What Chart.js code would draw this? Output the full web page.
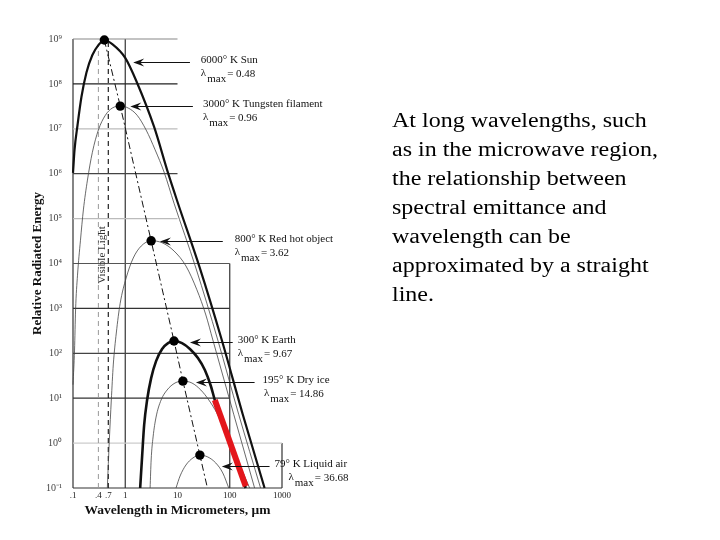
<!DOCTYPE html>
<html>
<head>
<meta charset="utf-8">
<script src="https://cdn.jsdelivr.net/npm/chart.js@4.4.0/dist/chart.umd.min.js"></script>
<style>
  html, body { margin: 0; padding: 0; background: #fff; }
  #wrap { position: relative; width: 720px; height: 540px; }
  #graph { position: absolute; left: 0; top: 0; }
  #note {
    position: absolute; left: 392px; top: 106px;
    font-family: 'Liberation Serif', 'Times New Roman', serif;
    font-size: 20px; line-height: 29px; color: #000;
    transform: scaleX(1.2); transform-origin: 0 0; white-space: nowrap;
  }
</style>
</head>
<body>
<div id="wrap">
  <canvas id="graph" width="720" height="540"></canvas>
  <div id="note">At long wavelengths, such<br>as in the microwave region,<br>the relationship between<br>spectral emittance and<br>wavelength can be<br>approximated by a straight<br>line.</div>
</div>
<script>
// wavelength (um) / relative radiated energy
const sunWave = [0.1, 0.107, 0.122, 0.145, 0.181, 0.235, 0.306, 0.398, 0.565, 1, 1.69, 3.57, 6.59, 10.2, 26.8, 70.4, 177, 464];
const sunEnergy = [1.04e6, 3.4e6, 1.2e7, 5.1e7, 1.8e8, 4.4e8, 7.3e8, 9.5e8, 7.7e8, 3.8e8, 1.05e8, 1.1e7, 1.04e6, 2.2e5, 7.9e3, 198, 4.4, 0.1];

const tungstenWave = [0.1, 0.107, 0.112, 0.122, 0.139, 0.158, 0.189, 0.235, 0.306, 0.416, 0.565, 0.803, 1.14, 1.69, 2.51, 3.73, 5.53, 8.58, 22.5, 59, 148, 389];
const tungstenEnergy = [20, 118, 920, 5.5e3, 3.3e4, 1.56e5, 7.2e5, 3.0e6, 9.4e6, 2.0e7, 2.9e7, 3.2e7, 2.9e7, 2.0e7, 9.4e6, 3.4e6, 1.09e6, 2.2e5, 7.9e3, 198, 4.4, 0.1];

const redHotWave = [0.454, 0.496, 0.541, 0.59, 0.674, 0.80, 1.04, 1.42, 2.02, 3.13, 5.07, 8.58, 14.5, 23.5, 34.9, 47.5, 119, 299];
const redHotEnergy = [0.1, 1.17, 9.1, 55, 283, 1.3e3, 4.75e3, 1.32e4, 2.45e4, 3.2e4, 2.9e4, 1.9e4, 8.8e3, 2.6e3, 713, 198, 4.4, 0.1];

const earthWave = [1.93, 2.11, 2.30, 2.62, 3.13, 3.89, 5.07, 6.59, 8.58, 12.2, 17.3, 24.6, 33.4, 43.5, 51.8, 202];
const earthEnergy = [0.1, 0.54, 2.53, 9.1, 28, 67, 125, 169, 188, 169, 125, 78.5, 42.5, 18.7, 9.1, 0.1];

const dryIceWave = [2.99, 3.13, 3.41, 3.89, 4.85, 6.31, 8.96, 12.7, 18.9, 28, 39.8, 56.5, 84, 142, 240];
const dryIceEnergy = [0.1, 0.42, 1.37, 3.8, 9.1, 15.2, 21.8, 24, 21.8, 15.2, 9.1, 4.7, 1.77, 0.42, 0.1];

const liquidAirWave = [9.36, 11.2, 14.5, 19.7, 26.8, 38.1, 54.1, 73.6, 95.7];
const liquidAirEnergy = [0.1, 0.185, 0.325, 0.466, 0.54, 0.49, 0.36, 0.216, 0.1];

// peaks (lambda max) and the displacement line through them
const peakWave = [0.398, 0.803, 3.13, 8.58, 12.7, 26.8];
const peakEnergy = [9.5e8, 3.2e7, 3.2e4, 188, 24, 0.54];
const wienWave = [...peakWave, 37.4];
const wienEnergy = [...peakEnergy, 0.1];

// red straight-line approximation
const straightWave = [51.8, 202];
const straightEnergy = [9.1, 0.11];

// visible light band
const visibleWave = [0.306, 0.474];
const visibleTop = [7.3e8, 8.5e8];

// stepped frame
const decades = [1e9, 1e8, 1e7, 1e6, 1e5, 1e4, 1e3, 1e2, 1e1, 1, 0.1];
const decadeEnd = [10, 10, 10, 10, 10, 100, 100, 100, 100, 1000, 1000];
const decadeColor = ['#888', '#222', '#bbb', '#444', '#bbb', '#555', '#333', '#444', '#333', '#ccc', '#333'];
const frameWave = [0.1, 1, 100, 1000];
const frameTop = [1e9, 1e9, 1e4, 1];

// ticks
const xTickValues = [0.1, 0.306, 0.474, 1, 10, 100, 1000];
const xTickLabels = ['.1', '.4', '.7', '1', '10', '100', '1000'];
const yTickLabels = ['10⁹', '10⁸', '10⁷', '10⁶', '10⁵', '10⁴', '10³', '10²', '10¹', '10⁰', '10⁻¹'];

// labels and arrows
const sources = ['6000° K Sun', '3000° K Tungsten filament', '800° K Red hot object', '300° K Earth', '195° K Dry ice', '79° K Liquid air'];
const lambdaMax = ['0.48', '0.96', '3.62', '9.67', '14.86', '36.68'];
const arrowTipWave = [1.42, 1.25, 4.6, 17.3, 22.5, 70.4];
const arrowTailWave = [17.3, 19.7, 73.6, 114, 299, 578];
const arrowEnergy = [3.1e8, 3.2e7, 3.2e4, 179, 23, 0.31];
const labelWave = [28, 30.6, 124, 142, 425, 719];
const lambdaWave = [28, 30.6, 124, 142, 450, 1330];

const pts = (xs, ys) => xs.map((v, i) => ({x: v, y: ys[i]}));
const SERIF = "'Liberation Serif', 'Times New Roman', serif";

function curve(xs, ys, color, width) {
    return {
        data: pts(xs, ys), showLine: true, pointRadius: 0, borderColor: color,
        borderWidth: width, cubicInterpolationMode: 'monotone', order: 5, clip: 4
    };
}
function segment(xs, ys, color, width, extra) {
    return Object.assign({
        data: pts(xs, ys), showLine: true, pointRadius: 0, borderColor: color,
        borderWidth: width, tension: 0, order: 10, clip: 4
    }, extra || {});
}

const datasets = [];
decades.forEach((d, i) => datasets.push(segment([0.1, decadeEnd[i]], [d, d], decadeColor[i], 1.2)));
frameWave.forEach((w, i) => datasets.push(segment([w, w], [0.1, frameTop[i]], '#333', 1.2)));
datasets.push(segment([visibleWave[0], visibleWave[0]], [0.1, visibleTop[0]], '#999', 1, {borderDash: [5, 4], order: 9}));
datasets.push(segment([visibleWave[1], visibleWave[1]], [0.1, visibleTop[1]], '#222', 1.2, {borderDash: [5, 4], order: 9}));
datasets.push(curve(sunWave, sunEnergy, '#111', 2.2));
datasets.push(curve(tungstenWave, tungstenEnergy, '#444', 0.8));
datasets.push(curve(redHotWave, redHotEnergy, '#444', 0.8));
datasets.push(curve(earthWave, earthEnergy, '#111', 2.6));
datasets.push(curve(dryIceWave, dryIceEnergy, '#444', 0.8));
datasets.push(curve(liquidAirWave, liquidAirEnergy, '#444', 0.8));
datasets.push(segment(wienWave, wienEnergy, '#111', 1, {borderDash: [7, 3, 2, 3], order: 3}));
datasets.push(segment(straightWave, straightEnergy, '#e3161b', 6, {order: 2, borderCapStyle: 'butt'}));
datasets.push({data: pts(peakWave, peakEnergy), pointRadius: 4.7, pointBackgroundColor: '#000', pointBorderWidth: 0, order: 1, clip: false});

const labelPlugin = {
    id: 'sourceLabels',
    afterDraw(chart) {
        const {ctx, scales: {x, y}} = chart;
        ctx.save();
        ctx.fillStyle = '#111';
        ctx.strokeStyle = '#111';
        ctx.lineWidth = 1;
        ctx.font = '11px ' + SERIF;
        ctx.textBaseline = 'middle';
        sources.forEach((name, i) => {
            const py = Math.round(y.getPixelForValue(arrowEnergy[i])) + 0.5;
            const tip = x.getPixelForValue(arrowTipWave[i]);
            const tail = x.getPixelForValue(arrowTailWave[i]);
            ctx.beginPath();
            ctx.moveTo(tip + 6, py);
            ctx.lineTo(tail, py);
            ctx.stroke();
            ctx.beginPath();
            ctx.moveTo(tip, py);
            ctx.lineTo(tip + 11, py - 4);
            ctx.lineTo(tip + 7, py);
            ctx.lineTo(tip + 11, py + 4);
            ctx.closePath();
            ctx.fill();
            ctx.fillText(name, x.getPixelForValue(labelWave[i]), py - 2);
            let mx = x.getPixelForValue(lambdaWave[i]);
            ctx.fillText('λ', mx, py + 11);
            mx += ctx.measureText('λ').width + 1;
            ctx.fillText('max', mx, py + 17);
            mx += ctx.measureText('max').width + 1;
            ctx.fillText('= ' + lambdaMax[i], mx, py + 12);
        });
        // visible light label
        ctx.translate(x.getPixelForValue(0.365), y.getPixelForValue(1.55e4));
        ctx.rotate(-Math.PI / 2);
        ctx.textAlign = 'center';
        ctx.fillStyle = '#333';
        ctx.fillText('Visible Light', 0, 0);
        ctx.restore();
    }
};

const ctx = document.getElementById('graph').getContext('2d');
Chart.defaults.font.family = SERIF;

var myChart = new Chart(ctx, {
    type: 'scatter',
    data: {datasets: datasets},
    plugins: [labelPlugin],
    options: {
        responsive: false,
        animation: false,
        layout: {padding: {left: 0, top: 39, right: 438, bottom: 0}},
        plugins: {legend: {display: false}, tooltip: {enabled: false}},
        scales: {
            x: {
                type: 'logarithmic', min: 0.1, max: 1000,
                grid: {display: false, drawTicks: false}, border: {display: false},
                afterBuildTicks: s => { s.ticks = xTickValues.map(v => ({value: v})); },
                afterFit: s => { s.height = 52; },
                ticks: {
                    autoSkip: false, maxRotation: 0, padding: 2, color: '#222',
                    font: {size: 9},
                    callback: (v, i) => xTickLabels[i]
                },
                title: {
                    display: true, text: 'Wavelength in Micrometers, μm', color: '#111',
                    font: {size: 13.5, weight: 'bold'}, padding: {top: 0, bottom: 21}
                }
            },
            y: {
                type: 'logarithmic', min: 0.1, max: 1e9,
                grid: {display: false, drawTicks: false}, border: {display: false},
                afterBuildTicks: s => { s.ticks = decades.map(v => ({value: v})); },
                afterFit: s => { s.width = 73; },
                ticks: {
                    autoSkip: false, padding: 11, color: '#444',
                    font: {size: 10},
                    callback: (v, i) => yTickLabels[i]
                },
                title: {
                    display: true, text: 'Relative Radiated Energy', color: '#111',
                    font: {size: 13, weight: 'bold'}, padding: {top: 30, bottom: 0}
                }
            }
        }
    }
});
</script>
</body>
</html>
